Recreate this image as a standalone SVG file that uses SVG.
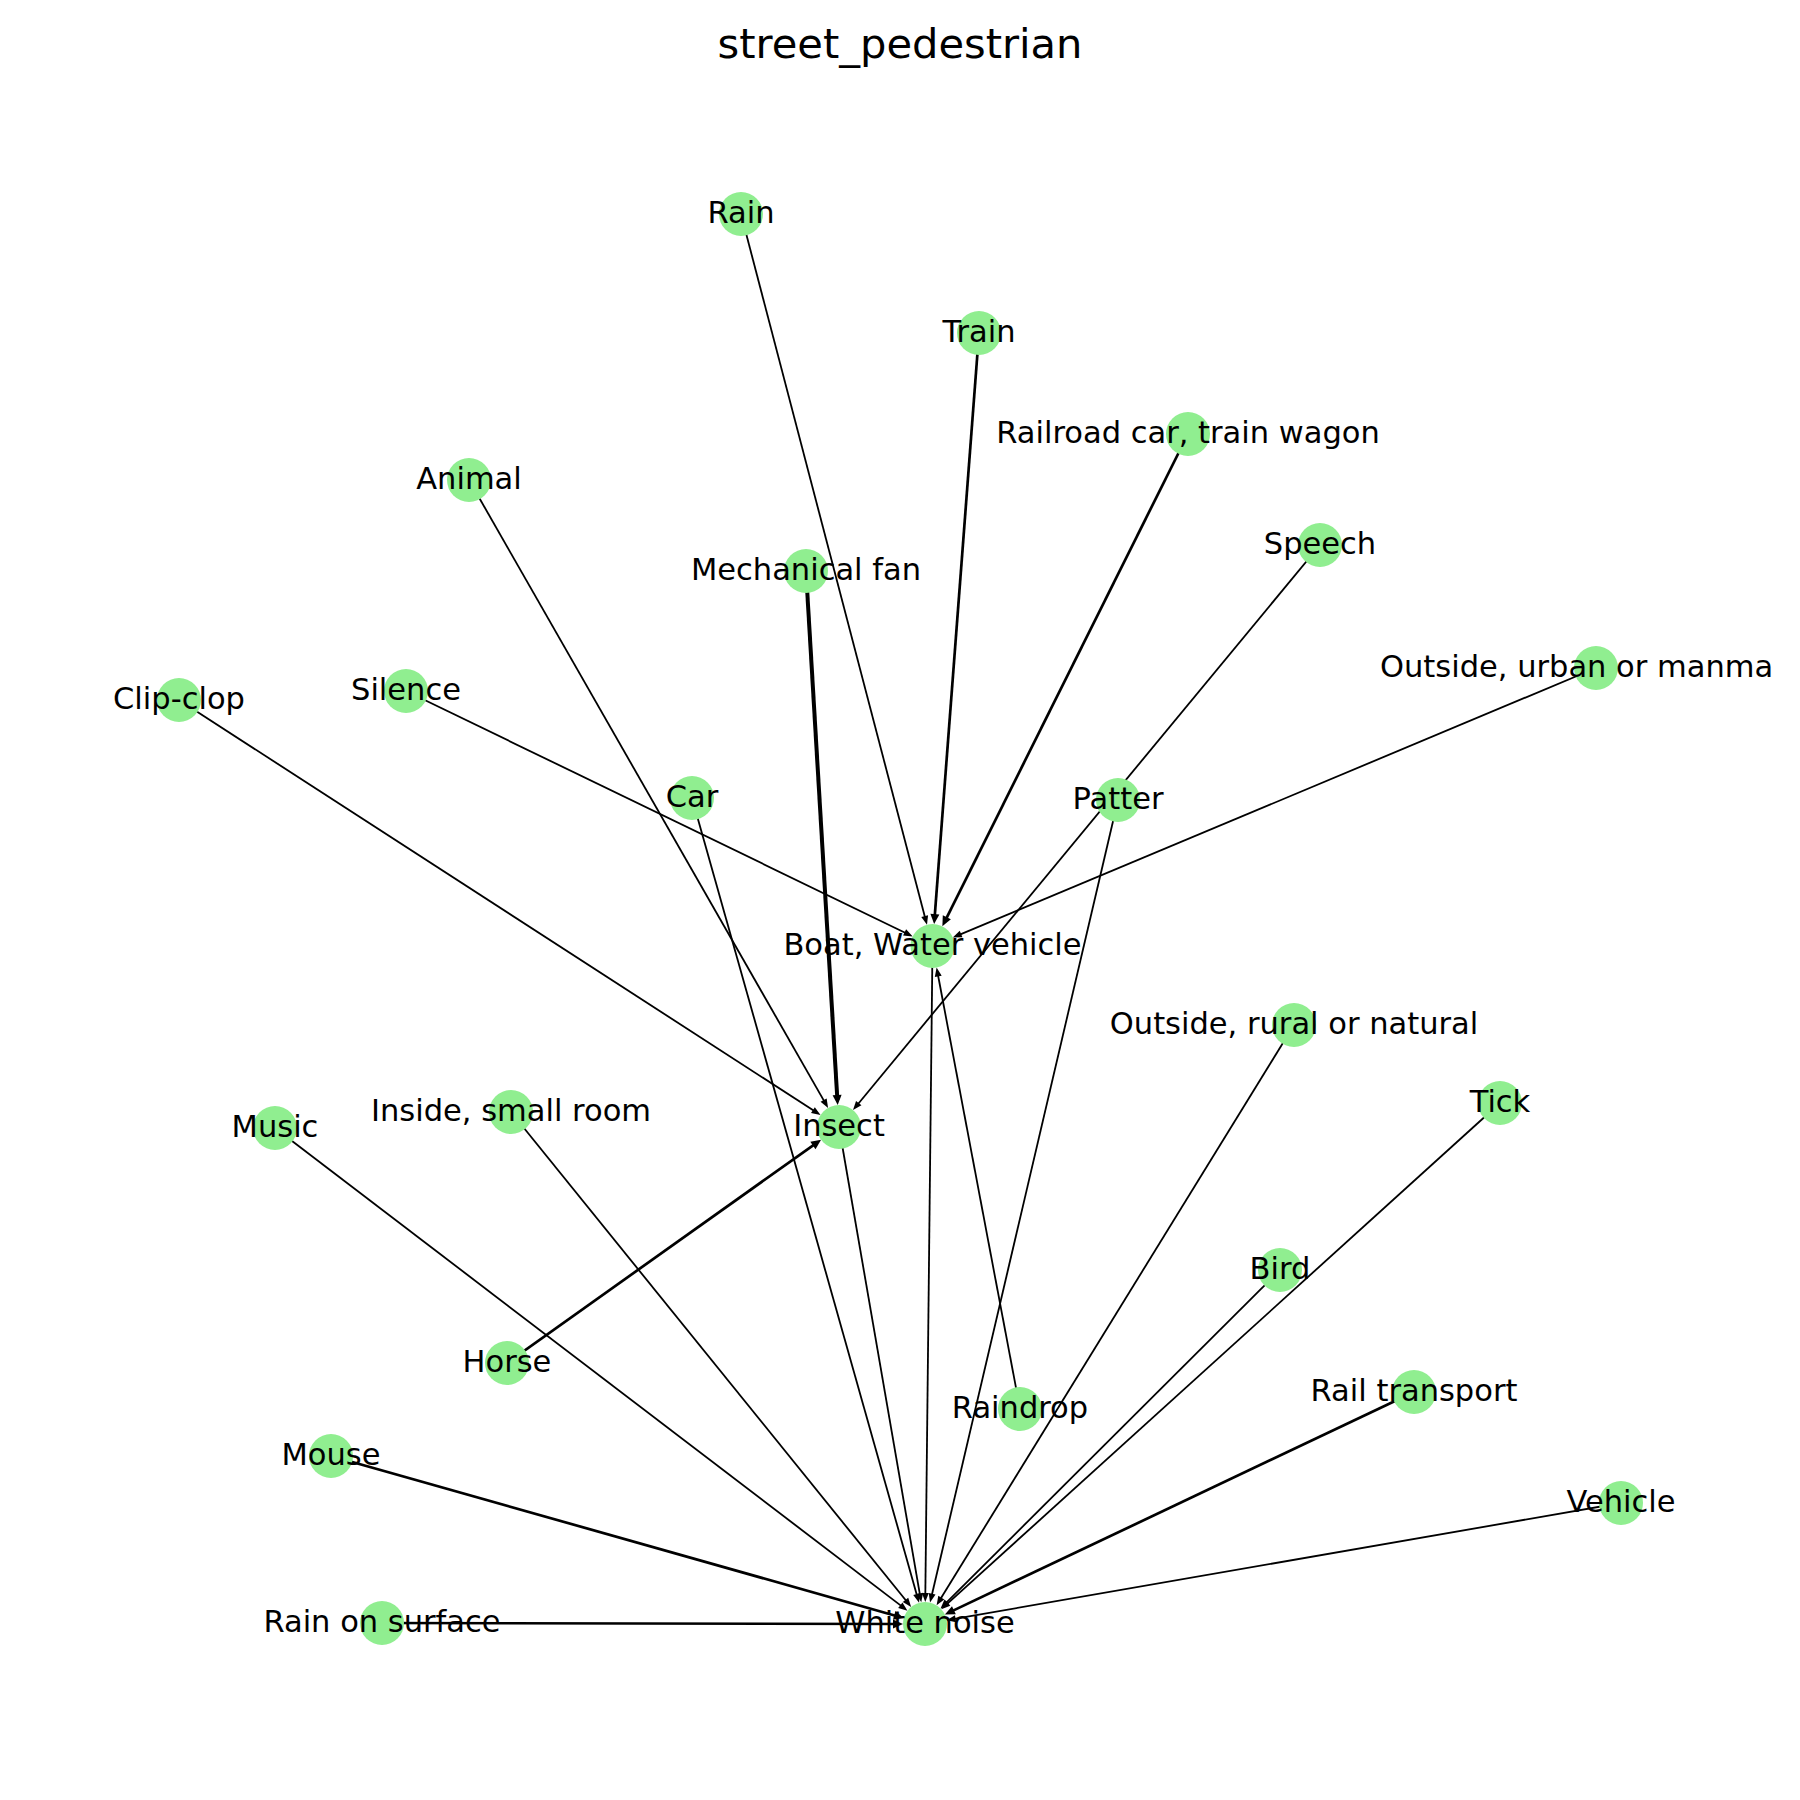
<svg xmlns="http://www.w3.org/2000/svg" width="1800" height="1800" viewBox="0 0 1800 1800">
<style>
.e{stroke:#000;stroke-width:1.8;fill:none;marker-end:url(#ah)}
.m{stroke-width:2.7;marker-end:url(#ahb)}
.k{stroke-width:4;marker-end:url(#ahb)}
.n circle{fill:#90EE90}
.n text{font-family:"DejaVu Sans",sans-serif;font-size:30.5px;fill:#000;text-anchor:middle}
.title{font-family:"DejaVu Sans",sans-serif;font-size:41.6px;fill:#000;text-anchor:middle}
</style>
<defs>
<marker id="ah" markerUnits="userSpaceOnUse" viewBox="-10 -5 11 10" refX="-5" refY="0" markerWidth="11" markerHeight="10" orient="auto" overflow="visible">
<path d="M-9,-3.5 L0,0 L-9,3.5 Z" fill="#000"/>
</marker>
<marker id="ahb" markerUnits="userSpaceOnUse" viewBox="-11 -6 12 12" refX="-5" refY="0" markerWidth="12" markerHeight="12" orient="auto" overflow="visible">
<path d="M-10,-4.5 L0,0 L-10,4.5 Z" fill="#000"/>
</marker>
</defs>
<rect width="1800" height="1800" fill="#fff"/>
<text class="title" x="900" y="58">street_pedestrian</text>
<g id="connectors">
<line class="e" x1="741" y1="214" x2="925.7" y2="919.9"/>
<line class="e m" x1="979" y1="333" x2="934.5" y2="919.1"/>
<line class="e m" x1="1188" y1="434" x2="944.6" y2="921.8"/>
<line class="e" x1="406" y1="691" x2="908.2" y2="934.2"/>
<line class="e" x1="1596" y1="668" x2="957.4" y2="935.6"/>
<line class="e" x1="1020" y1="1409" x2="937.5" y2="972.5"/>
<line class="e" x1="469" y1="480" x2="825.6" y2="1103.6"/>
<line class="e k" x1="806" y1="571" x2="837.4" y2="1100"/>
<line class="e" x1="179" y1="700" x2="816.3" y2="1112.3"/>
<line class="e" x1="1320" y1="545" x2="856.2" y2="1106.2"/>
<line class="e m" x1="507" y1="1363" x2="817" y2="1142.6"/>
<line class="e" x1="932.5" y1="946" x2="925.3" y2="1597"/>
<line class="e" x1="839" y1="1127" x2="920.4" y2="1597.4"/>
<line class="e" x1="692" y1="798" x2="917.7" y2="1598"/>
<line class="e" x1="1118" y1="800" x2="931.2" y2="1597.7"/>
<line class="e" x1="275" y1="1128" x2="903.5" y2="1607.6"/>
<line class="e" x1="511" y1="1112" x2="908" y2="1603"/>
<line class="e" x1="1294" y1="1025" x2="939.2" y2="1601"/>
<line class="e" x1="1500" y1="1103" x2="945" y2="1605.9"/>
<line class="e" x1="1280" y1="1270" x2="944.1" y2="1604.9"/>
<line class="e m" x1="1414" y1="1392" x2="949.4" y2="1612.4"/>
<line class="e m" x1="331" y1="1456" x2="899" y2="1616.7"/>
<line class="e" x1="1621" y1="1503" x2="951.6" y2="1619.4"/>
<line class="e m" x1="382" y1="1623" x2="898" y2="1624"/>
</g>
<g id="n-rain" class="n"><circle cx="741" cy="214" r="22"/><text x="741" y="223">Rain</text></g>
<g id="n-train" class="n"><circle cx="979" cy="333" r="22"/><text x="979" y="342">Train</text></g>
<g id="n-railroad" class="n"><circle cx="1188" cy="434" r="22"/><text x="1188" y="443">Railroad car, train wagon</text></g>
<g id="n-animal" class="n"><circle cx="469" cy="480" r="22"/><text x="469" y="489">Animal</text></g>
<g id="n-mechfan" class="n"><circle cx="806" cy="571" r="22"/><text x="806" y="580">Mechanical fan</text></g>
<g id="n-speech" class="n"><circle cx="1320" cy="545" r="22"/><text x="1320" y="554">Speech</text></g>
<g id="n-outurban" class="n"><circle cx="1596" cy="668" r="22"/><text x="1380" y="677" style="text-anchor:start">Outside, urban or manma</text></g>
<g id="n-clipclop" class="n"><circle cx="179" cy="700" r="22"/><text x="179" y="709">Clip-clop</text></g>
<g id="n-silence" class="n"><circle cx="406" cy="691" r="22"/><text x="406" y="700">Silence</text></g>
<g id="n-car" class="n"><circle cx="692" cy="798" r="22"/><text x="692" y="807">Car</text></g>
<g id="n-patter" class="n"><circle cx="1118" cy="800" r="22"/><text x="1118" y="809">Patter</text></g>
<g id="n-boat" class="n"><circle cx="932.5" cy="946" r="22"/><text x="932.5" y="955">Boat, Water vehicle</text></g>
<g id="n-outrural" class="n"><circle cx="1294" cy="1025" r="22"/><text x="1294" y="1034">Outside, rural or natural</text></g>
<g id="n-tick" class="n"><circle cx="1500" cy="1103" r="22"/><text x="1500" y="1112">Tick</text></g>
<g id="n-music" class="n"><circle cx="275" cy="1128" r="22"/><text x="275" y="1137">Music</text></g>
<g id="n-inside" class="n"><circle cx="511" cy="1112" r="22"/><text x="511" y="1121">Inside, small room</text></g>
<g id="n-insect" class="n"><circle cx="839" cy="1127" r="22"/><text x="839" y="1136">Insect</text></g>
<g id="n-bird" class="n"><circle cx="1280" cy="1270" r="22"/><text x="1280" y="1279">Bird</text></g>
<g id="n-horse" class="n"><circle cx="507" cy="1363" r="22"/><text x="507" y="1372">Horse</text></g>
<g id="n-raindrop" class="n"><circle cx="1020" cy="1409" r="22"/><text x="1020" y="1418">Raindrop</text></g>
<g id="n-railtransport" class="n"><circle cx="1414" cy="1392" r="22"/><text x="1414" y="1401">Rail transport</text></g>
<g id="n-mouse" class="n"><circle cx="331" cy="1456" r="22"/><text x="331" y="1465">Mouse</text></g>
<g id="n-vehicle" class="n"><circle cx="1621" cy="1503" r="22"/><text x="1621" y="1512">Vehicle</text></g>
<g id="n-rainsurface" class="n"><circle cx="382" cy="1623" r="22"/><text x="382" y="1632">Rain on surface</text></g>
<g id="n-whitenoise" class="n"><circle cx="925" cy="1624" r="22"/><text x="925" y="1633">White noise</text></g>
</svg>
